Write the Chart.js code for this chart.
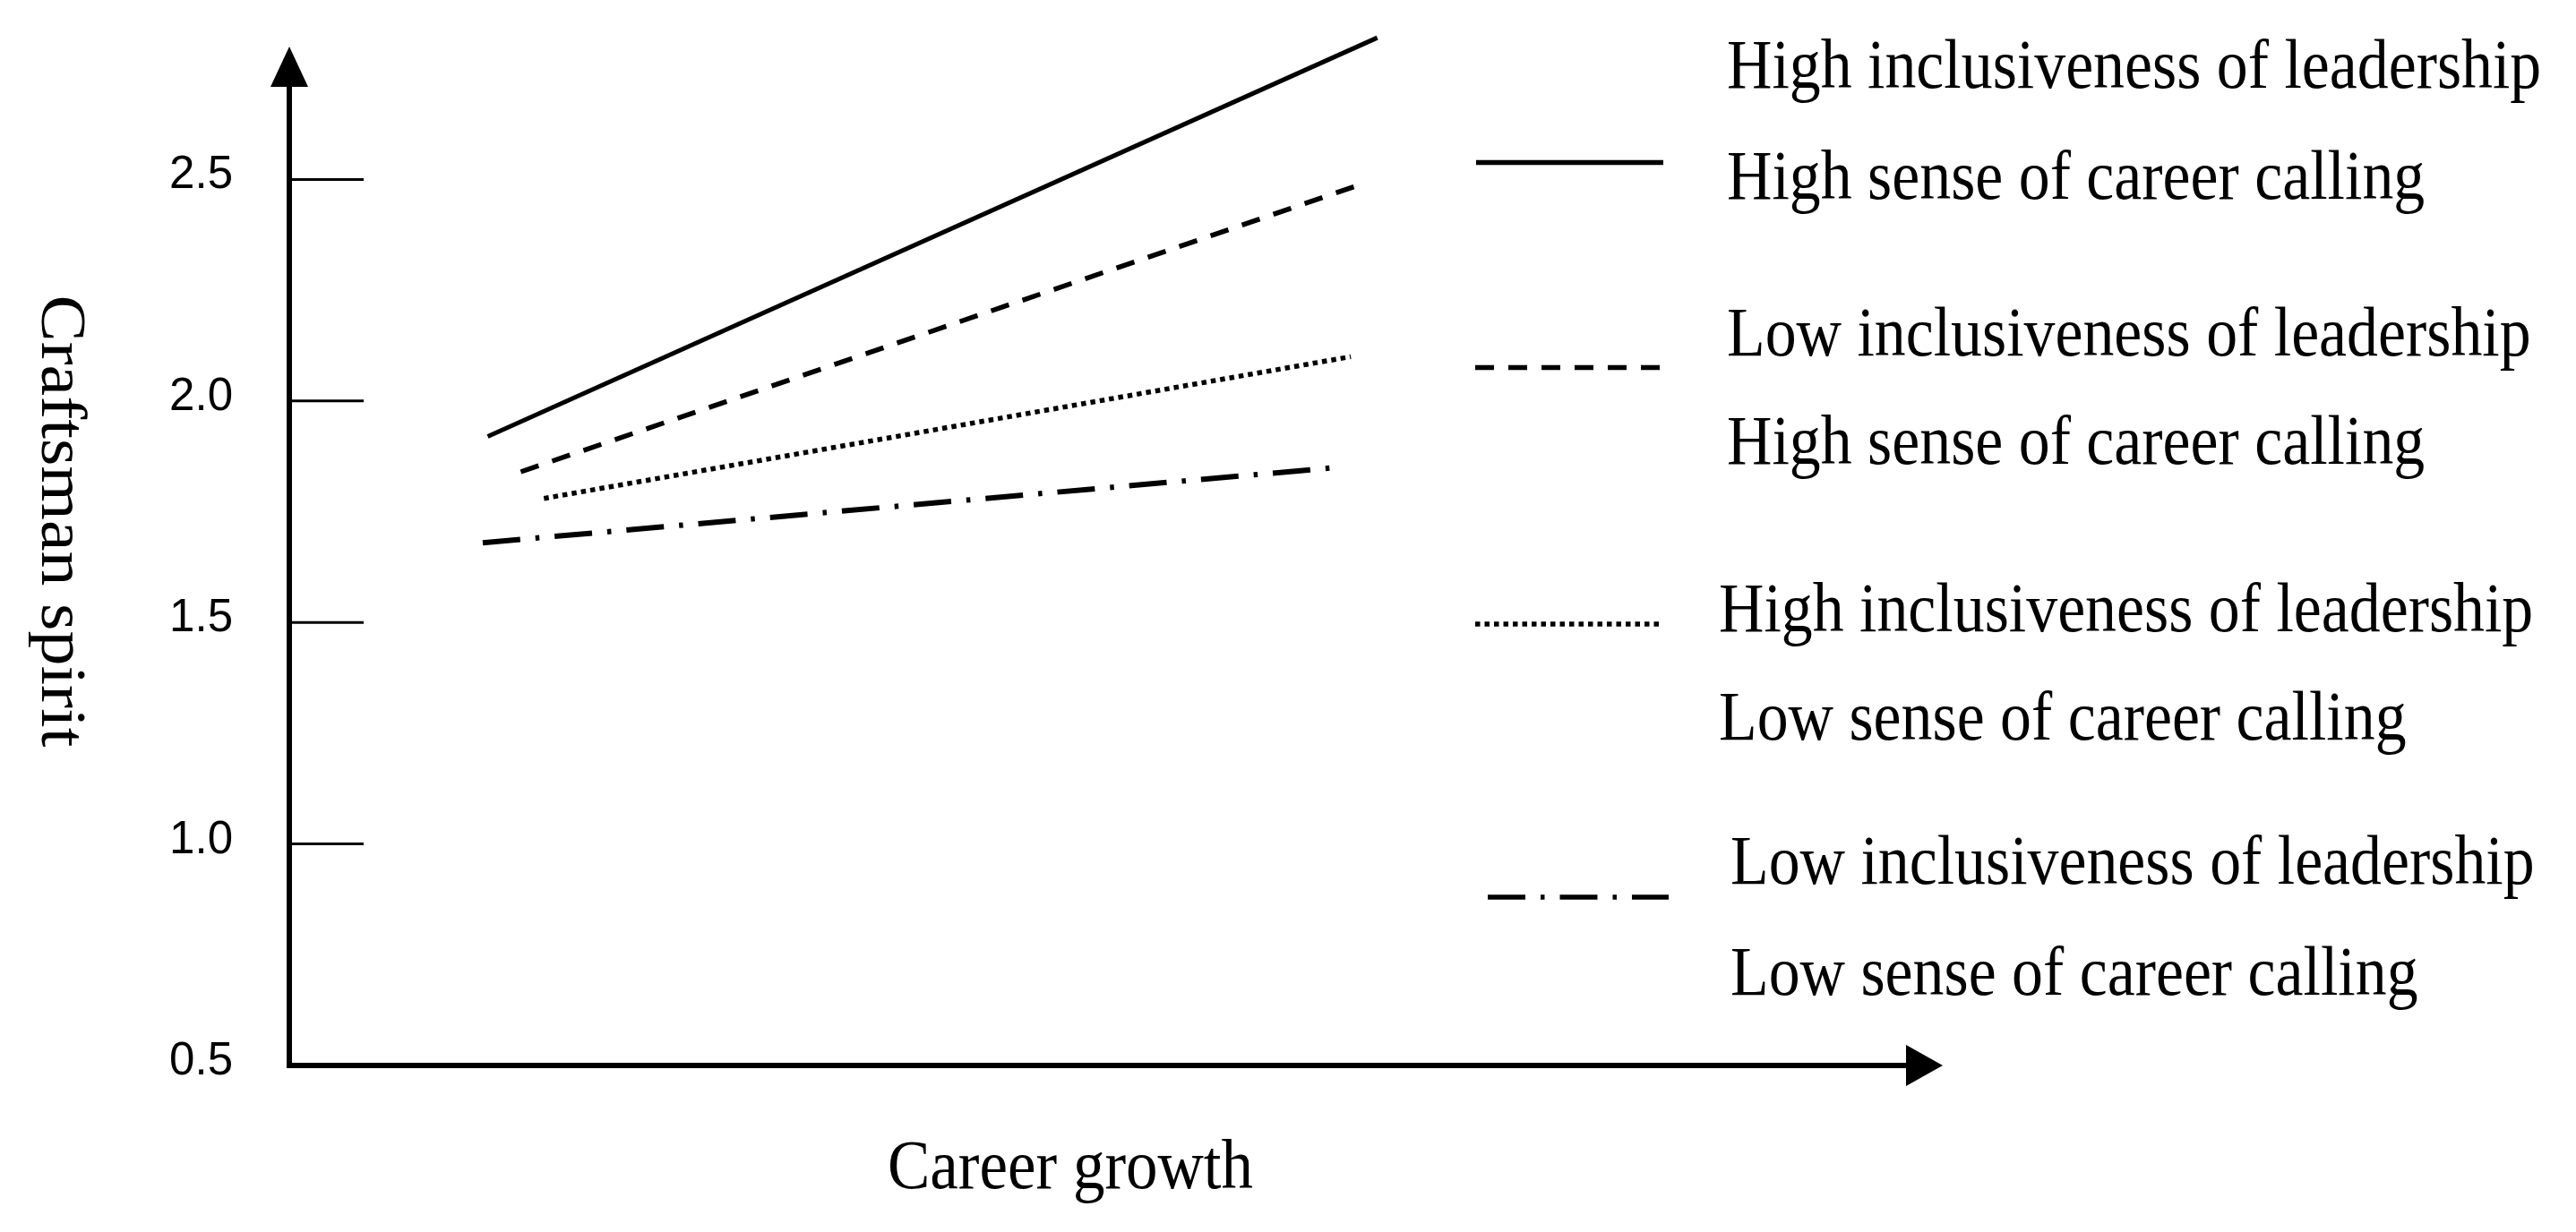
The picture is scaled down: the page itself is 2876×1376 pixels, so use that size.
<!DOCTYPE html>
<html>
<head>
<meta charset="utf-8">
<script src="https://cdn.jsdelivr.net/npm/chart.js@4/dist/chart.umd.min.js"></script>
<style>
  html, body { margin: 0; padding: 0; background: #ffffff; }
  canvas { display: block; }
</style>
</head>
<body>
<canvas id="chart" width="2876" height="1376"></canvas>
<script>
// ---------------- data ----------------
const xAxisTitle = "Career growth";
const yAxisTitle = "Craftsman spirit";
const yTickValues = [0.5, 1.0, 1.5, 2.0, 2.5];

// legend text, two lines per series
const legendLine1 = [
  "High inclusiveness of leadership",
  "Low inclusiveness of leadership",
  "High inclusiveness of leadership",
  "Low inclusiveness of leadership"
];
const legendLine2 = [
  "High sense of career calling",
  "High sense of career calling",
  "Low sense of career calling",
  "Low sense of career calling"
];

// each series: low / high career growth (x in arbitrary axis units 0..10)
const highLeadHighCallX = [1.20, 6.58];
const highLeadHighCallY = [1.92, 2.82];
const lowLeadHighCallX  = [1.40, 6.49];
const lowLeadHighCallY  = [1.84, 2.49];
const highLeadLowCallX  = [1.54, 6.42];
const highLeadLowCallY  = [1.78, 2.10];
const lowLeadLowCallX   = [1.17, 6.34];
const lowLeadLowCallY   = [1.68, 1.85];

// ---------------- styles & layout ----------------
const seriesX = [highLeadHighCallX, lowLeadHighCallX, highLeadLowCallX, lowLeadLowCallX];
const seriesY = [highLeadHighCallY, lowLeadHighCallY, highLeadLowCallY, lowLeadLowCallY];
const seriesDash  = [[], [21, 16], [5.5, 5], [42, 17, 4.5, 17]];
const seriesWidth = [5, 5.5, 5.5, 6];

const legendTextX     = [1928, 1928, 1919, 1932];
const legendBaseline1 = [98, 397, 705, 987];
const legendBaseline2 = [222, 518, 826, 1111];
const legendSampleY   = [181.5, 410.5, 697, 1002];
const legendSampleX0  = [1648, 1647, 1647, 1661];
const legendSampleX1  = [1857, 1855, 1855, 1863];

const SQUEEZE = 0.91;          // horizontal compression of the original figure
const LEGEND_SQUEEZE = 0.895;
const SERIF = '"Liberation Serif", "Times New Roman", serif';
const TEXT_SIZE = 78;

function squeezedText(ctx, text, x, y, align, k) {
  ctx.save();
  ctx.translate(x, y);
  ctx.scale(k, 1);
  ctx.textAlign = align;
  ctx.textBaseline = 'alphabetic';
  ctx.fillText(text, 0, 0);
  ctx.restore();
}

const datasets = seriesX.map((xs, i) => ({
  label: legendLine1[i] + ' / ' + legendLine2[i],
  data: xs.map((xv, j) => ({ x: xv, y: seriesY[i][j] })),
  borderColor: '#000000',
  backgroundColor: '#000000',
  borderWidth: seriesWidth[i],
  borderDash: seriesDash[i],
  borderCapStyle: 'butt',
  pointRadius: 0,
  fill: false,
  tension: 0,
  clip: false
}));

const decorPlugin = {
  id: 'decor',
  afterDatasetsDraw(chart) {
    const { ctx, chartArea: a, scales } = chart;
    const y = scales.y;
    ctx.save();
    ctx.strokeStyle = '#000000';
    ctx.fillStyle = '#000000';

    // inner tick marks
    ctx.lineWidth = 3;
    y.ticks.forEach(t => {
      if (t.value === y.min) return;
      const py = y.getPixelForValue(t.value);
      ctx.beginPath();
      ctx.moveTo(a.left, py);
      ctx.lineTo(a.left + 83, py);
      ctx.stroke();
    });

    // axis lines
    ctx.lineWidth = 6;
    ctx.beginPath();
    ctx.moveTo(a.left, a.bottom + 3);
    ctx.lineTo(a.left, a.top + 40);
    ctx.stroke();
    ctx.beginPath();
    ctx.moveTo(a.left - 3, a.bottom);
    ctx.lineTo(a.right - 36, a.bottom);
    ctx.stroke();

    // arrow heads
    ctx.beginPath();
    ctx.moveTo(a.left, a.top);
    ctx.lineTo(a.left - 21, a.top + 45);
    ctx.lineTo(a.left + 21, a.top + 45);
    ctx.closePath();
    ctx.fill();
    ctx.beginPath();
    ctx.moveTo(a.right, a.bottom);
    ctx.lineTo(a.right - 41, a.bottom - 23);
    ctx.lineTo(a.right - 41, a.bottom + 23);
    ctx.closePath();
    ctx.fill();

    // axis titles
    ctx.font = TEXT_SIZE + 'px ' + SERIF;
    squeezedText(ctx, xAxisTitle, 1195, 1327, 'center', SQUEEZE);
    ctx.save();
    ctx.translate(47, 582);
    ctx.rotate(Math.PI / 2);
    ctx.scale(1, SQUEEZE);
    ctx.textAlign = 'center';
    ctx.textBaseline = 'alphabetic';
    ctx.fillText(yAxisTitle, 0, 0);
    ctx.restore();

    // legend
    chart.data.datasets.forEach((ds, i) => {
      ctx.save();
      ctx.lineWidth = 5.5;
      ctx.lineCap = 'butt';
      ctx.setLineDash(ds.borderDash || []);
      ctx.beginPath();
      ctx.moveTo(legendSampleX0[i], legendSampleY[i]);
      ctx.lineTo(legendSampleX1[i], legendSampleY[i]);
      ctx.stroke();
      ctx.restore();
      squeezedText(ctx, legendLine1[i], legendTextX[i], legendBaseline1[i], 'left', LEGEND_SQUEEZE);
      squeezedText(ctx, legendLine2[i], legendTextX[i], legendBaseline2[i], 'left', LEGEND_SQUEEZE);
    });
    ctx.restore();
  }
};

new Chart(document.getElementById('chart'), {
  type: 'line',
  data: { datasets },
  options: {
    responsive: false,
    devicePixelRatio: 1,
    animation: false,
    events: [],
    layout: { padding: { left: 0, top: 52, right: 707, bottom: 186 } },
    plugins: {
      legend: { display: false },
      tooltip: { enabled: false },
      title: { display: false }
    },
    scales: {
      x: {
        type: 'linear',
        min: 0,
        max: 10,
        display: false,
        afterFit(s) { s.height = 0; s.paddingLeft = 0; s.paddingRight = 0; }
      },
      y: {
        type: 'linear',
        position: 'left',
        min: 0.5,
        max: 2.8,
        grid: { display: false, drawTicks: false },
        border: { display: false },
        afterBuildTicks(s) { s.ticks = yTickValues.map(v => ({ value: v })); },
        afterFit(s) { s.width = 323; s.paddingTop = 0; s.paddingBottom = 0; },
        ticks: {
          padding: 63,
          labelOffset: -4,
          color: '#000000',
          font: { family: '"Liberation Sans", Arial, sans-serif', size: 51 },
          callback: v => Number(v).toFixed(1)
        }
      }
    }
  },
  plugins: [decorPlugin]
});
</script>
</body>
</html>
